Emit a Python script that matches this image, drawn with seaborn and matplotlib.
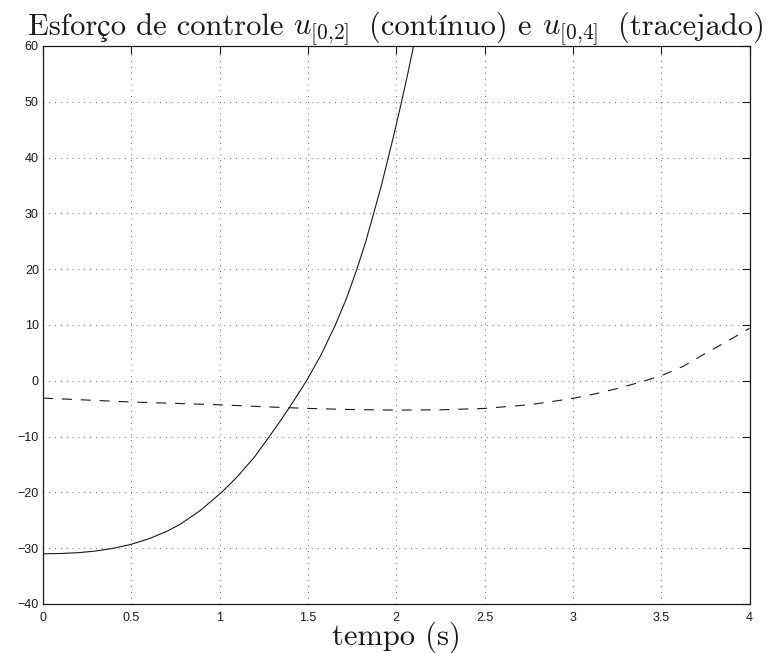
import numpy as np
import pandas as pd
import matplotlib
matplotlib.use('Agg')
import matplotlib.pyplot as plt
import seaborn as sns

# values
t_u02 = [0, 0.1, 0.2, 0.3, 0.4, 0.5, 0.6, 0.7, 0.775, 0.888, 1.011, 1.1, 1.2, 1.281,
         1.35, 1.407, 1.492, 1.575, 1.655, 1.72, 1.777, 1.825, 1.872, 1.915, 1.955,
         1.995, 2.03, 2.065, 2.098, 2.14]
u02 = [-31.0, -30.95, -30.8, -30.5, -30.0, -29.3, -28.3, -27.0, -25.75, -23.3, -20.0,
       -17.2, -13.55, -10.0, -6.9, -4.2, 0.0, 4.7, 10.0, 14.9, 20.0, 24.7, 30.0, 34.9,
       40.0, 45.2, 50.0, 55.0, 60.0, 66.6]

t_u04 = [0, 0.25, 0.5, 0.75, 1.0, 1.25, 1.5, 1.75, 2.0, 2.25, 2.5, 2.75, 2.875, 3.0,
         3.125, 3.25, 3.375, 3.5, 3.625, 3.75, 3.875, 4.0]
u04 = [-3.1, -3.45, -3.8, -4.05, -4.3, -4.65, -4.95, -5.15, -5.25, -5.2, -4.95, -4.3,
       -3.75, -3.15, -2.35, -1.4, -0.3, 0.9, 2.6, 4.9, 7.1, 9.4]

xticks = [0, 0.5, 1, 1.5, 2, 2.5, 3, 3.5, 4]
xtick_labels = ['0', '0.5', '1', '1.5', '2', '2.5', '3', '3.5', '4']
yticks = [-40, -30, -20, -10, 0, 10, 20, 30, 40, 50, 60]

# title pieces: plain text parts and math parts (drawn side by side)
titulo = ['Esforço de controle', '$u_{[0{,}2]}$', '(contínuo) e', '$u_{[0{,}4]}$',
          '(tracejado)']
rotulo_x = 'tempo (s)'

sns.set_theme(style='white')
plt.rcParams['font.family'] = ['Liberation Sans', 'DejaVu Sans']
plt.rcParams['mathtext.fontset'] = 'cm'
serif = ['cmr10', 'STIXGeneral', 'DejaVu Serif']

df02 = pd.DataFrame({'t': t_u02, 'u': u02})
df04 = pd.DataFrame({'t': t_u04, 'u': u04})

W, H = 767, 653
fig = plt.figure(figsize=(W / 100, H / 100), dpi=100)
left, right, top, bottom = 43, 749.5, 46, 604
ax = fig.add_axes([left / W, 1 - bottom / H, (right - left) / W, (bottom - top) / H])

sns.lineplot(data=df02, x='t', y='u', ax=ax, color='k', linewidth=0.8, sort=False)
sns.lineplot(data=df04, x='t', y='u', ax=ax, color='k', linewidth=0.8,
             linestyle=(0, (9, 8)), sort=False)

ax.set_xlim(0, 4)
ax.set_ylim(-40, 60)
ax.set_xticks(xticks)
ax.set_xticklabels(xtick_labels)
ax.set_yticks(yticks)

ax.grid(True, linestyle=(0, (1, 6)), color='0.25', linewidth=0.6)
for s in ax.spines.values():
    s.set_color('k')
    s.set_linewidth(0.9)
ax.tick_params(direction='in', length=5.5, width=0.8, color='k',
               top=True, right=True, labelsize=9, labelcolor='k')
ax.tick_params(axis='x', pad=6)
ax.tick_params(axis='y', pad=3)

fs = 22
ax.set_ylabel('')
ax.set_xlabel(rotulo_x, fontfamily=serif, fontsize=fs, va='baseline', color='k')
ax.xaxis.set_label_coords(0.5, -41 / (bottom - top))

# title built from pieces so that ç and í can fall back to another font
y_tit = 1 + 11 / (bottom - top)
gap = 0.333 * fs
pecas = [ax.text(0, y_tit, titulo[0], transform=ax.transAxes, fontsize=fs,
                 family=serif, va='baseline', ha='left', color='k')]
for p in titulo[1:]:
    extra = 7 if pecas[-1].get_text().startswith('$') else 0
    a = ax.annotate(p, xy=(1, y_tit), xycoords=(pecas[-1], ax.transAxes),
                    xytext=(gap + extra, 0), textcoords='offset points', fontsize=fs,
                    family=serif, va='baseline', ha='left', color='k',
                    annotation_clip=False)
    pecas.append(a)

fig.canvas.draw()
r = fig.canvas.get_renderer()
x0 = pecas[0].get_window_extent(r).x0
x1 = pecas[-1].get_window_extent(r).x1
bb = ax.bbox
centro = bb.x0 + bb.width / 2
pecas[0].set_x((centro - (x1 - x0) / 2 - bb.x0) / bb.width)

plt.savefig('out.png', dpi=100)
